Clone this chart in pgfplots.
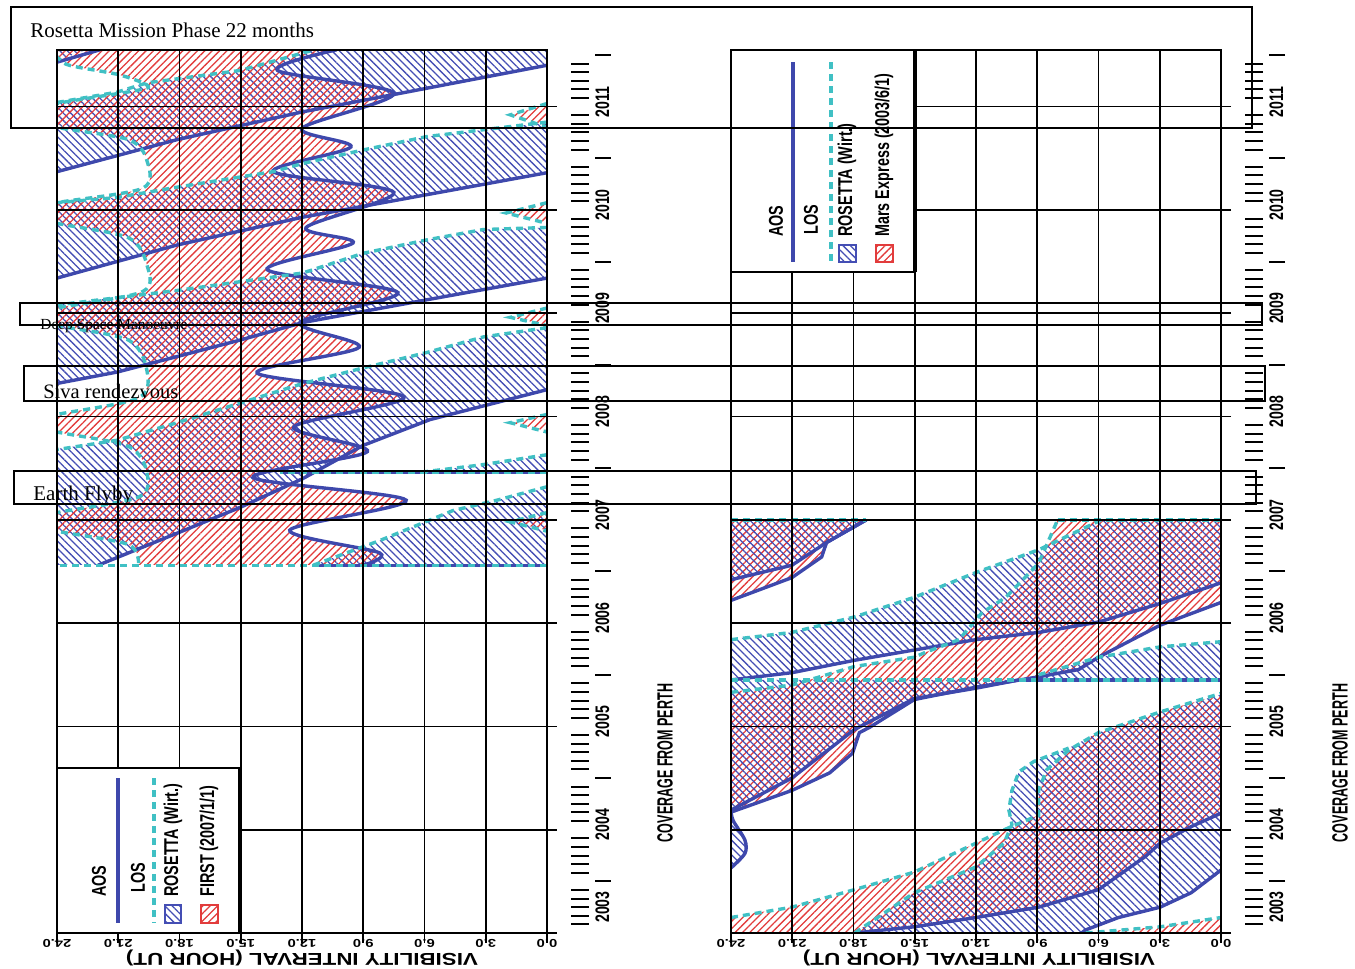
\documentclass[border=0pt]{standalone}
\usepackage{fontspec}
\setmainfont{Liberation Serif}
\newfontfamily\cnd[FakeStretch=0.72]{Liberation Sans}
\newfontfamily\wde[FakeStretch=1.3]{Liberation Sans}
\newfontfamily\nrw[FakeStretch=0.57]{Liberation Sans}
\usepackage{pgfplots}
\pgfplotsset{compat=1.18}
\usetikzlibrary{patterns.meta}
\definecolor{aosblue}{RGB}{62,72,172}
\definecolor{loscyan}{RGB}{64,192,196}
\definecolor{hatchred}{RGB}{226,60,60}
\definecolor{hatchblue}{RGB}{68,78,180}
\tikzset{
 bluehatch/.style={draw=none, pattern={Lines[angle=-45,distance=2.6pt,line width=0.65pt]}, pattern color=hatchblue},
 redhatch/.style={draw=none, pattern={Lines[angle=45,distance=2.6pt,line width=0.65pt]}, pattern color=hatchred},
 aos/.style={aosblue, line width=1.7pt},
 los/.style={loscyan, line width=1.7pt, dash pattern=on 3.5pt off 2.5pt},
 legtxt/.style={rotate=90, anchor=west, inner sep=0pt, font=\cnd\bfseries\fontsize{10}{11}\selectfont},
}
\def\sd{\rule[-2pt]{1pt}{9pt}}
\def\ld{\rule[-13pt]{1pt}{8pt}}
\pgfplotsset{
 panel/.style={
  scale only axis, width=245pt, height=441.5pt,
  xmin=0, xmax=24, x dir=reverse, ymin=2003, ymax=2011.548,
  axis on top,
  xtick={0,3,...,24},
  xticklabels={0.0,3.0,6.0,9.0,12.0,15.0,18.0,21.0,24.0},
  xtick pos=left, xticklabel pos=left,
  ytick={2003,2004,...,2011},
  yticklabels={\hspace*{21pt}2003,2004,2005,2006,2007,2008,2009,2010,2011},
  ytick pos=right, yticklabel pos=right,
  minor y tick num=11,
  tick align=outside,
  major tick length=5pt, minor tick length=5pt,
  grid=major,
  major grid style={black, line width=0.8pt},
  axis line style={black, line width=1pt},
  every tick/.style={black, line width=0.8pt},
  xticklabel style={yshift=2.5pt, rotate=180, anchor=south, inner sep=0.5pt, font=\wde\bfseries\fontsize{5.7}{6}\selectfont},
  yticklabel style={xshift=19pt, yshift=2.5pt, rotate=90, anchor=north, inner sep=0pt, font=\cnd\bfseries\fontsize{9.8}{10}\selectfont},
  extra y ticks={2003.0833,2003.1667,2003.25,2003.3333,2003.4167,2003.5,2003.5833,2003.6667,2003.75,2003.8333,2003.9167,
   2004.0833,2004.1667,2004.25,2004.3333,2004.4167,2004.5,2004.5833,2004.6667,2004.75,2004.8333,2004.9167,
   2005.0833,2005.1667,2005.25,2005.3333,2005.4167,2005.5,2005.5833,2005.6667,2005.75,2005.8333,2005.9167,
   2006.0833,2006.1667,2006.25,2006.3333,2006.4167,2006.5,2006.5833,2006.6667,2006.75,2006.8333,2006.9167,
   2007.0833,2007.1667,2007.25,2007.3333,2007.4167,2007.5,2007.5833,2007.6667,2007.75,2007.8333,2007.9167,
   2008.0833,2008.1667,2008.25,2008.3333,2008.4167,2008.5,2008.5833,2008.6667,2008.75,2008.8333,2008.9167,
   2009.0833,2009.1667,2009.25,2009.3333,2009.4167,2009.5,2009.5833,2009.6667,2009.75,2009.8333,2009.9167,
   2010.0833,2010.1667,2010.25,2010.3333,2010.4167,2010.5,2010.5833,2010.6667,2010.75,2010.8333,2010.9167,
   2011.0833,2011.1667,2011.25,2011.3333,2011.4167,2011.5},
  extra y tick labels={\sd,\sd,\sd,\sd,\sd,\ld,\sd,\sd,\sd,\sd,\sd,
   \sd,\sd,\sd,\sd,\sd,\ld,\sd,\sd,\sd,\sd,\sd,
   \sd,\sd,\sd,\sd,\sd,\ld,\sd,\sd,\sd,\sd,\sd,
   \sd,\sd,\sd,\sd,\sd,\ld,\sd,\sd,\sd,\sd,\sd,
   \sd,\sd,\sd,\sd,\sd,\ld,\sd,\sd,\sd,\sd,\sd,
   \sd,\sd,\sd,\sd,\sd,\ld,\sd,\sd,\sd,\sd,\sd,
   \sd,\sd,\sd,\sd,\sd,\ld,\sd,\sd,\sd,\sd,\sd,
   \sd,\sd,\sd,\sd,\sd,\ld,\sd,\sd,\sd,\sd,\sd,
   \sd,\sd,\sd,\sd,\sd,\ld},
  extra y tick style={grid=none, major tick length=0pt, yticklabel style={anchor=base, xshift=-2.5pt}},
 }
}
\begin{document}
\begin{tikzpicture}[x=0.5pt,y=-0.5pt]
\path[use as bounding box] (0,0) rectangle (1355,969);

% ================= LEFT PANEL: ROSETTA / FIRST =================
\begin{axis}[panel, at={(28.5pt,-466.5pt)}, anchor=south west]
% ROSETTA visibility bands
\addplot[bluehatch] coordinates {(24.2,2011.43) (21.89,2011.6) (24.2,2011.6)} -- cycle;
\addplot[bluehatch] coordinates {(24.2,2010.37) (18.12,2010.68) (11.95,2010.95) (9.01,2011.06) (-0.2,2011.40) (-0.2,2011.6) (11.2,2011.6) (11.95,2011.52) (15.03,2011.35) (19.59,2011.23) (21.06,2011.14) (24.2,2011.04)} -- cycle;
\addplot[bluehatch] coordinates {(24.2,2009.34) (18.12,2009.66) (11.95,2009.93) (8.03,2010.07) (-0.2,2010.36) (-0.2,2010.85) (5.88,2010.71) (9.01,2010.58) (11.95,2010.45) (13.42,2010.37) (18.12,2010.22) (21.06,2010.12) (24.2,2010.07)} -- cycle;
\addplot[bluehatch] coordinates {(24.2,2008.32) (21.06,2008.43) (18.12,2008.58) (15.03,2008.74) (11.95,2008.91) (5.88,2009.13) (-0.2,2009.34) (-0.2,2009.83) (3.13,2009.81) (5.88,2009.71) (9.01,2009.58) (11.95,2009.39) (18.12,2009.22) (24.2,2009.08)} -- cycle;
\addplot[bluehatch] coordinates {(-0.2,2008.26) (5.73,2007.97) (9.01,2007.72) (11.95,2007.40) (15.03,2007.12) (18.12,2006.87) (21.74,2006.58) (21.99,2006.56) (24.2,2006.56) (24.2,2007.68) (21.06,2007.77) (18.12,2007.94) (15.03,2008.13) (11.95,2008.32) (9.01,2008.47) (5.88,2008.62) (3.13,2008.77) (-0.2,2008.86)} -- cycle;
\addplot[bluehatch] coordinates {(-0.2,2007.32) (2.45,2007.19) (4.60,2007.09) (8.18,2006.80) (11.46,2006.56) (-0.2,2006.56)} -- cycle;
\addplot[bluehatch] coordinates {(-0.2,2007.63) (3.28,2007.53) (6.22,2007.46) (-0.2,2007.46)} -- cycle;
% FIRST visibility (AOS wiggle down, LOS wiggle back up)
\addplot[redhatch, smooth] coordinates {(10.0,2011.8) (10.3,2011.55) (13.2,2011.35) (7.5,2011.13) (12.0,2010.79) (9.6,2010.61) (13.4,2010.37) (7.5,2010.17) (11.8,2009.83) (9.5,2009.68) (13.7,2009.42) (7.3,2009.20) (12.1,2008.91) (9.2,2008.67) (14.2,2008.42) (7.0,2008.19) (12.4,2007.90) (8.8,2007.66) (14.4,2007.41) (6.9,2007.19) (12.6,2006.90) (8.2,2006.68) (9.0,2006.56) (9.5,2006.3) (20.0,2006.3) (20.0,2006.56) (20.5,2006.76) (24.0,2006.89) (25.8,2006.98) (24.0,2007.07) (20.0,2007.22) (19.6,2007.46) (20.5,2007.71) (24.0,2007.85) (25.8,2007.94) (24.0,2008.02) (20.0,2008.18) (19.6,2008.45) (20.5,2008.74) (24.0,2008.88) (25.8,2008.96) (24.0,2009.05) (19.8,2009.21) (19.6,2009.47) (20.5,2009.73) (24.0,2009.87) (26.0,2009.97) (24.0,2010.07) (19.8,2010.21) (19.6,2010.48) (20.5,2010.68) (24.0,2010.80) (25.8,2010.92) (24.0,2011.03) (20.0,2011.16) (19.6,2011.21) (21.0,2011.31) (23.4,2011.40) (24.0,2011.48) (24.6,2011.55) (25,2011.8)} -- cycle;
\addplot[redhatch] coordinates {(-0.2,2011.03) (1.8,2010.92) (-0.2,2010.80)} -- cycle;
\addplot[redhatch] coordinates {(-0.2,2010.07) (2.0,2009.97) (-0.2,2009.87)} -- cycle;
\addplot[redhatch] coordinates {(-0.2,2009.05) (1.8,2008.96) (-0.2,2008.88)} -- cycle;
\addplot[redhatch] coordinates {(-0.2,2008.02) (1.8,2007.94) (-0.2,2007.85)} -- cycle;
\addplot[redhatch] coordinates {(-0.2,2007.07) (1.8,2006.98) (-0.2,2006.89)} -- cycle;
% nothing is computed before 2006.56
\addplot[fill=white, draw=none] coordinates {(-1,2002.9) (25,2002.9) (25,2006.56) (-1,2006.56)} -- cycle;
% AOS lines
\addplot[aos, smooth] coordinates {(10.3,2011.55) (13.2,2011.35) (7.5,2011.13) (12.0,2010.79) (9.6,2010.61) (13.4,2010.37) (7.5,2010.17) (11.8,2009.83) (9.5,2009.68) (13.7,2009.42) (7.3,2009.20) (12.1,2008.91) (9.2,2008.67) (14.2,2008.42) (7.0,2008.19) (12.4,2007.90) (8.8,2007.66) (14.4,2007.41) (6.9,2007.19) (12.6,2006.90) (8.2,2006.68) (9.0,2006.56)};
\addplot[aos] coordinates {(24,2011.43) (21.89,2011.55)};
\addplot[aos] coordinates {(24,2010.37) (18.12,2010.68) (11.95,2010.95) (9.01,2011.06) (0,2011.40)};
\addplot[aos] coordinates {(24,2009.34) (18.12,2009.66) (11.95,2009.93) (8.03,2010.07) (0,2010.36)};
\addplot[aos] coordinates {(24,2008.32) (21.06,2008.43) (18.12,2008.58) (15.03,2008.74) (11.95,2008.91) (5.88,2009.13) (0,2009.34)};
\addplot[aos] coordinates {(0,2008.26) (5.73,2007.97) (9.01,2007.72) (11.95,2007.40) (15.03,2007.12) (18.12,2006.87) (21.74,2006.58) (21.99,2006.56)};
\addplot[aos] coordinates {(0,2007.46) (13.08,2007.46)};
\addplot[aos] coordinates {(0,2006.56) (11.46,2006.56)};
% LOS lines
\addplot[los, smooth] coordinates {(24.6,2011.55) (24.0,2011.48) (23.4,2011.40) (21.0,2011.31) (19.6,2011.21) (20.0,2011.16) (24.0,2011.03) (25.8,2010.92) (24.0,2010.80) (20.5,2010.68) (19.6,2010.48) (19.8,2010.21) (24.0,2010.07) (26.0,2009.97) (24.0,2009.87) (20.5,2009.73) (19.6,2009.47) (19.8,2009.21) (24.0,2009.05) (25.8,2008.96) (24.0,2008.88) (20.5,2008.74) (19.6,2008.45) (20.0,2008.18) (24.0,2008.02) (25.8,2007.94) (24.0,2007.85) (20.5,2007.71) (19.6,2007.46) (20.0,2007.22) (24.0,2007.07) (25.8,2006.98) (24.0,2006.89) (20.5,2006.76) (20.0,2006.56)};
\addplot[los] coordinates {(0,2011.03) (1.8,2010.92) (0,2010.80)};
\addplot[los] coordinates {(0,2010.07) (2.0,2009.97) (0,2009.87)};
\addplot[los] coordinates {(0,2009.05) (1.8,2008.96) (0,2008.88)};
\addplot[los] coordinates {(0,2008.02) (1.8,2007.94) (0,2007.85)};
\addplot[los] coordinates {(0,2007.07) (1.8,2006.98) (0,2006.89)};
\addplot[los] coordinates {(24,2011.04) (21.06,2011.14) (19.59,2011.23) (15.03,2011.35) (11.95,2011.52) (11.36,2011.55)};
\addplot[los] coordinates {(0,2010.85) (5.88,2010.71) (9.01,2010.58) (11.95,2010.45) (13.42,2010.37) (18.12,2010.22) (21.06,2010.12) (24,2010.07)};
\addplot[los] coordinates {(0,2009.83) (3.13,2009.81) (5.88,2009.71) (9.01,2009.58) (11.95,2009.39) (18.12,2009.22) (24,2009.08)};
\addplot[los] coordinates {(0,2008.86) (3.13,2008.77) (5.88,2008.62) (9.01,2008.47) (11.95,2008.32) (15.03,2008.13) (18.12,2007.94) (21.06,2007.77) (24,2007.68)};
\addplot[los] coordinates {(0,2007.32) (2.45,2007.19) (4.60,2007.09) (8.18,2006.80) (11.46,2006.56)};
\addplot[los] coordinates {(0,2007.63) (3.28,2007.53) (6.22,2007.46)};
\addplot[los] coordinates {(0,2007.46) (13.08,2007.46)};
\addplot[los] coordinates {(0,2006.56) (24,2006.56)};
\end{axis}

% ================= RIGHT PANEL: ROSETTA / MARS EXPRESS =================
\begin{axis}[panel, at={(365.5pt,-466.5pt)}, anchor=south west]
% Mars Express
\addplot[redhatch] coordinates {(17.95,2002.9) (17.95,2003.0) (15.02,2003.06) (12.0,2003.15) (8.93,2003.25) (6.0,2003.42) (3.71,2003.74) (2.98,2003.87) (1.46,2004.03) (-0.2,2004.16) (-0.2,2005.32) (2.98,2005.14) (6.0,2004.94) (7.46,2004.77) (8.54,2004.58) (8.93,2004.38) (8.93,2004.14) (10.39,2004.02) (12.0,2003.87) (15.02,2003.59) (17.95,2003.42) (21.02,2003.25) (24.2,2003.15) (24.2,2002.9)} -- cycle;
\addplot[redhatch] coordinates {(-0.2,2002.9) (6.8,2002.9) (6.63,2003.0) (2.98,2003.06) (-0.2,2003.15)} -- cycle;
\addplot[redhatch] coordinates {(24.2,2004.17) (21.02,2004.38) (19.17,2004.55) (18.05,2004.74) (17.71,2004.94) (17.22,2004.99) (15.02,2005.26) (12.0,2005.38) (8.93,2005.48) (6.98,2005.55) (6.0,2005.67) (2.98,2005.98) (-0.2,2006.20) (-0.2,2007.0) (8.0,2007.0) (8.93,2006.58) (9.56,2006.45) (10.54,2006.25) (11.71,2006.10) (12.83,2005.84) (14.44,2005.72) (15.02,2005.67) (17.95,2005.58) (21.02,2005.40) (24.2,2005.33)} -- cycle;
\addplot[redhatch] coordinates {(24.2,2006.22) (21.02,2006.44) (19.56,2006.64) (19.32,2006.78) (17.37,2007.0) (24.2,2007.0)} -- cycle;
% ROSETTA
\addplot[bluehatch] coordinates {(6.83,2002.9) (6.63,2003.03) (5.02,2003.15) (2.98,2003.25) (1.46,2003.39) (-0.2,2003.61) (-0.2,2005.32) (2.98,2005.14) (6.0,2004.94) (7.46,2004.79) (9.17,2004.66) (9.90,2004.56) (10.24,2004.38) (10.39,2004.19) (10.24,2004.05) (10.63,2003.87) (12.0,2003.64) (15.02,2003.39) (17.95,2003.0) (18.0,2002.9)} -- cycle;
\addplot[bluehatch] coordinates {(24.2,2003.63) (24,2003.63) (23.32,2003.77) (23.32,2003.90) (23.90,2004.09) (24,2004.19) (24.2,2004.19)} -- cycle;
\addplot[bluehatch] coordinates {(24.2,2004.19) (21.02,2004.50) (17.95,2004.97) (15.02,2005.27) (12.0,2005.37) (9.90,2005.45) (24.2,2005.45)} -- cycle;
\addplot[bluehatch] coordinates {(24.2,2005.45) (21.02,2005.52) (17.95,2005.64) (15.02,2005.74) (12.0,2005.84) (8.93,2005.91) (6.0,2006.01) (2.98,2006.19) (-0.2,2006.39) (-0.2,2007.0) (5.85,2007.0) (8.93,2006.71) (12.0,2006.49) (15.02,2006.25) (17.95,2006.06) (21.02,2005.91) (24.2,2005.84)} -- cycle;
\addplot[bluehatch] coordinates {(24.2,2006.42) (21.02,2006.56) (19.32,2006.78) (17.37,2007.0) (24.2,2007.0)} -- cycle;
\addplot[bluehatch] coordinates {(8.93,2005.45) (8.93,2005.50) (6.0,2005.67) (2.98,2005.77) (-0.2,2005.82) (-0.2,2005.45)} -- cycle;
% AOS lines
\addplot[aos] coordinates {(17.95,2003.0) (15.02,2003.06) (12.0,2003.15) (8.93,2003.25) (6.0,2003.42) (3.71,2003.74) (2.98,2003.87) (1.46,2004.03) (0,2004.16)};
\addplot[aos] coordinates {(24,2004.17) (21.02,2004.38) (19.17,2004.55) (18.05,2004.74) (17.71,2004.94) (17.22,2004.99) (15.02,2005.26) (12.0,2005.38) (8.93,2005.48) (6.98,2005.55) (6.0,2005.67) (2.98,2005.98) (0,2006.20)};
\addplot[aos] coordinates {(24,2006.22) (21.02,2006.44) (19.56,2006.64) (19.32,2006.78) (17.37,2007.0)};
\addplot[aos] coordinates {(6.83,2003.0) (6.63,2003.03) (5.02,2003.15) (2.98,2003.25) (1.46,2003.39) (0,2003.61)};
\addplot[aos, smooth] coordinates {(24,2003.63) (23.32,2003.77) (23.32,2003.90) (23.90,2004.09) (24,2004.19)};
\addplot[aos] coordinates {(24,2004.19) (21.02,2004.50) (17.95,2004.97) (15.02,2005.27) (12.0,2005.37) (9.90,2005.45)};
\addplot[aos] coordinates {(24,2005.45) (21.02,2005.52) (17.95,2005.64) (15.02,2005.74) (12.0,2005.84) (8.93,2005.91) (6.0,2006.01) (2.98,2006.19) (0,2006.39)};
\addplot[aos] coordinates {(24,2006.42) (21.02,2006.56) (19.32,2006.78) (17.37,2007.0)};
\addplot[aos] coordinates {(9.90,2005.45) (0,2005.45)};
% LOS lines
\addplot[los] coordinates {(24,2003.15) (21.02,2003.25) (17.95,2003.42) (15.02,2003.59) (12.0,2003.87) (10.39,2004.02) (8.93,2004.14) (8.93,2004.38) (8.54,2004.58) (7.46,2004.77) (6.0,2004.94) (2.98,2005.14) (0,2005.32)};
\addplot[los] coordinates {(6.63,2003.0) (2.98,2003.06) (0,2003.15)};
\addplot[los] coordinates {(24,2005.33) (21.02,2005.40) (17.95,2005.58) (15.02,2005.67) (14.44,2005.72) (12.83,2005.84) (11.71,2006.10) (10.54,2006.25) (9.56,2006.45) (8.93,2006.58) (8.0,2007.0)};
\addplot[los] coordinates {(17.95,2003.0) (15.02,2003.39) (12.0,2003.64) (10.63,2003.87) (10.24,2004.05) (10.39,2004.19) (10.24,2004.38) (9.90,2004.56) (9.17,2004.66) (7.46,2004.79)};
\addplot[los] coordinates {(24,2005.84) (21.02,2005.91) (17.95,2006.06) (15.02,2006.25) (12.0,2006.49) (8.93,2006.71) (5.85,2007.0)};
\addplot[los] coordinates {(8.93,2005.50) (6.0,2005.67) (2.98,2005.77) (0,2005.82)};
\addplot[los] coordinates {(24,2005.45) (0,2005.45)};
\addplot[los] coordinates {(24,2007.0) (17.37,2007.0)};
\addplot[los] coordinates {(8.0,2007.0) (0,2007.0)};
\end{axis}

% ---------- axis titles ----------
\node[rotate=180, inner sep=0pt, font=\wde\bfseries\fontsize{8.6}{10}\selectfont] at (302,958) {VISIBILITY INTERVAL (HOUR UT)};
\node[rotate=180, inner sep=0pt, font=\wde\bfseries\fontsize{8.6}{10}\selectfont] at (979,958) {VISIBILITY INTERVAL (HOUR UT)};
\node[rotate=90, inner sep=0pt, font=\nrw\bfseries\fontsize{11}{12}\selectfont] at (665,763) {COVERAGE FROM PERTH};
\node[rotate=90, inner sep=0pt, font=\nrw\bfseries\fontsize{11}{12}\selectfont] at (1340,763) {COVERAGE FROM PERTH};

% ---------- legend, left panel ----------
\draw[fill=white, line width=0.6pt] (57,768) rectangle (240,933);
\draw[line width=1.6pt] (240,768) -- (240,933);
\draw[aos] (118,778) -- (118,923);
\draw[los] (154,778) -- (154,923);
\node[legtxt] at (99,897) {AOS};
\node[legtxt] at (138,893) {LOS};
\path[bluehatch] (165,905) rectangle (181,923);
\draw[hatchblue, line width=0.6pt] (165,905) rectangle (181,923);
\node[legtxt] at (173,897) {ROSETTA (Wirt.)};
\path[redhatch] (201,905) rectangle (218,923);
\draw[hatchred, line width=0.6pt] (201,905) rectangle (218,923);
\node[legtxt] at (209,897) {FIRST (2007/1/1)};

% ---------- legend, right panel ----------
\draw[fill=white, line width=0.6pt] (731,50) rectangle (915,272);
\draw[line width=1.6pt] (915,50) -- (915,272);
\draw[aos] (793,62) -- (793,262);
\draw[los] (831,62) -- (831,262);
\node[legtxt] at (776,237) {AOS};
\node[legtxt] at (811,235) {LOS};
\path[bluehatch] (839,245) rectangle (856,262);
\draw[hatchblue, line width=0.6pt] (839,245) rectangle (856,262);
\node[legtxt] at (847,237) {ROSETTA (Wirt.)};
\path[redhatch] (876,245) rectangle (893,262);
\draw[hatchred, line width=0.6pt] (876,245) rectangle (893,262);
\node[legtxt] at (884,237) {Mars Express (2003/6/1)};

% ---------- mission phase annotations ----------
\draw[line width=0.7pt] (11,7) rectangle (1252,128);
\node[anchor=base west, inner sep=0pt, font=\fontsize{10.5}{12}\selectfont] at (30,37) {Rosetta Mission Phase 22 months};
\draw[line width=0.7pt] (20,303) rectangle (1262,325);
\node[anchor=base west, inner sep=0pt, font=\fontsize{7.7}{9}\selectfont] at (40,329) {Deep Space Manoeuvre};
\draw[line width=0.7pt] (24,366) rectangle (1265,401);
\node[anchor=base west, inner sep=0pt, font=\fontsize{10.25}{12}\selectfont] at (43,398) {Siva rendezvous};
\draw[line width=0.7pt] (14,471) rectangle (1256,504);
\node[anchor=base west, inner sep=0pt, font=\fontsize{10.5}{12}\selectfont] at (33,500) {Earth Flyby};
\end{tikzpicture}
\end{document}
